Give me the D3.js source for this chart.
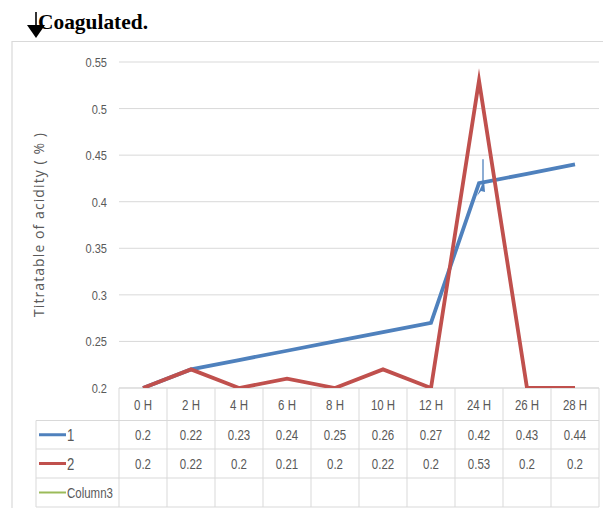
<!DOCTYPE html>
<html>
<head>
<meta charset="utf-8">
<script src="https://cdn.jsdelivr.net/npm/d3@7"></script>
<style>
  html, body { margin: 0; padding: 0; background: #fff; }
  svg { display: block; }
  .num { font-family: "Liberation Sans", Arial, sans-serif; fill: #595959; }
</style>
</head>
<body>
<svg id="chart" width="603" height="508"></svg>
<script>
// Sampling times and titratable acidity (%) readings
const categories = ["0 H", "2 H", "4 H", "6 H", "8 H", "10 H", "12 H", "24 H", "26 H", "28 H"];
const series1 = [0.2, 0.22, 0.23, 0.24, 0.25, 0.26, 0.27, 0.42, 0.43, 0.44];
const series2 = [0.2, 0.22, 0.2, 0.21, 0.2, 0.22, 0.2, 0.53, 0.2, 0.2];
const column3 = [];
const yTicks = [0.2, 0.25, 0.3, 0.35, 0.4, 0.45, 0.5, 0.55];

const seriesList = [
  { name: "1", values: series1, color: "#4F81BD" },
  { name: "2", values: series2, color: "#C0504D" },
  { name: "Column3", values: column3, color: "#9BBB59" }
];

const svg = d3.select("#chart");

const plot = { left: 119, right: 599, top: 62, bottom: 388 };
const tableLeft = 36;
const rowEdges = [388, 420.5, 449, 478, 507];
const narrow = 0.82; // horizontal squeeze for the narrow number face

const x = d3.scaleBand().domain(categories).range([plot.left, plot.right]);
const y = d3.scaleLinear().domain([0.2, 0.55]).range([plot.bottom, plot.top]);
const cx = c => x(c) + x.bandwidth() / 2;

// Places narrow text at (px, py) by squeezing it horizontally
function place(sel, px, py) {
  sel.attr("transform", (d, i) => `translate(${px(d, i)},${py(d, i)}) scale(${narrow},1)`);
}

// Title with marker arrow
const hdr = svg.append("g");
hdr.append("line").attr("x1", 36).attr("x2", 36).attr("y1", 12).attr("y2", 27)
  .attr("stroke", "#000").attr("stroke-width", 1.6);
hdr.append("path").attr("d", "M27,25 L45,25 L36,38 Z").attr("fill", "#000");
hdr.append("text").attr("x", 38).attr("y", 28.5)
  .attr("font-family", "'Liberation Serif', 'Times New Roman', serif")
  .attr("font-weight", "bold").attr("font-size", 22).attr("fill", "#000")
  .attr("textLength", 110).attr("lengthAdjust", "spacingAndGlyphs")
  .text("Coagulated.");

// Chart frame
svg.append("path").attr("d", "M12,508 L12,41.5 L603,41.5")
  .attr("fill", "none").attr("stroke", "#d9d9d9").attr("stroke-width", 1.2);

// Horizontal gridlines and value axis labels
svg.append("g").selectAll("line").data(yTicks).join("line")
  .attr("x1", plot.left).attr("x2", plot.right)
  .attr("y1", d => y(d)).attr("y2", d => y(d))
  .attr("stroke", "#d9d9d9").attr("stroke-width", 1);

svg.append("g").selectAll("text").data(yTicks).join("text")
  .attr("class", "num")
  .attr("text-anchor", "end").attr("font-size", 13.5)
  .text(d => +d.toFixed(2))
  .call(place, () => 107, d => y(d) + 5);

// Axis title
svg.append("text")
  .attr("transform", `translate(44,${(133 + 317) / 2}) rotate(-90)`)
  .attr("text-anchor", "middle")
  .attr("font-family", "'Open Sans', 'DejaVu Sans', sans-serif")
  .attr("font-size", 14).attr("fill", "#595959")
  .attr("textLength", 184).attr("lengthAdjust", "spacing")
  .text("Titratable of acidity ( % )");

// Data table grid
const grid = svg.append("g").attr("stroke", "#d9d9d9").attr("stroke-width", 1);
rowEdges.forEach((ry, i) => {
  grid.append("line").attr("x1", i === 0 ? plot.left : tableLeft).attr("x2", plot.right)
    .attr("y1", ry).attr("y2", ry);
});
grid.append("line").attr("x1", tableLeft).attr("x2", tableLeft)
  .attr("y1", rowEdges[1]).attr("y2", rowEdges[4]);
categories.concat([null]).forEach(c => {
  const vx = c === null ? plot.right : x(c);
  grid.append("line").attr("x1", vx).attr("x2", vx)
    .attr("y1", rowEdges[0]).attr("y2", rowEdges[4]);
});

// Category header row
svg.append("g").selectAll("text").data(categories).join("text")
  .attr("class", "num")
  .attr("text-anchor", "middle").attr("font-size", 14)
  .text(d => d)
  .call(place, d => cx(d), () => (rowEdges[0] + rowEdges[1]) / 2 + 5.5);

// Series rows: legend key + values
seriesList.forEach((s, i) => {
  const top = rowEdges[i + 1], bot = rowEdges[i + 2];
  const mid = (top + bot) / 2;
  const isEmpty = s.values.length === 0;
  const key = svg.append("g");
  key.append("line").attr("x1", 39).attr("x2", 66).attr("y1", mid).attr("y2", mid)
    .attr("stroke", s.color).attr("stroke-width", isEmpty ? 2 : 3);
  key.append("text").attr("class", "num")
    .attr("font-size", isEmpty ? 14 : 16)
    .text(s.name)
    .call(place, () => 67, () => mid + (isEmpty ? 5 : 6));
  svg.append("g").selectAll("text").data(s.values.map((v, j) => ({ v, c: categories[j] }))).join("text")
    .attr("class", "num")
    .attr("text-anchor", "middle").attr("font-size", 14)
    .text(d => d.v)
    .call(place, d => cx(d.c), () => mid + 5.5);
});

// Series lines, clipped to the plot area
svg.append("clipPath").attr("id", "plotClip").append("rect")
  .attr("x", plot.left).attr("y", 0).attr("width", plot.right - plot.left).attr("height", plot.bottom);

const line = d3.line().x((d, j) => cx(categories[j])).y(d => y(d));
const lines = svg.append("g").attr("clip-path", "url(#plotClip)");
[seriesList[0], seriesList[1]].forEach(s => {
  lines.append("path").datum(s.values)
    .attr("d", line)
    .attr("fill", "none").attr("stroke", s.color)
    .attr("stroke-width", 3.8).attr("stroke-linejoin", "miter").attr("stroke-miterlimit", 20);
});

// Pointer mark at the 24 H reading of series 1
const px = cx("24 H"), py = y(series1[7]);
lines.append("line").attr("x1", px + 4).attr("x2", px + 4).attr("y1", y(0.4457)).attr("y2", py)
  .attr("stroke", "#4F81BD").attr("stroke-width", 1.3);
lines.append("path")
  .attr("d", `M${px + 5},${py - 3} L${px - 2},${py + 13} L${px + 2},${py + 8} L${px + 6},${py + 9} Z`)
  .attr("fill", "#4F81BD");
</script>
</body>
</html>
